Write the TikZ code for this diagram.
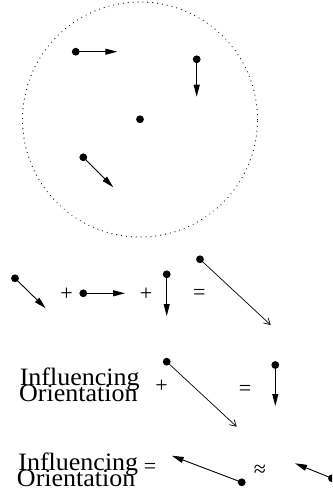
\documentclass[tikz,border=0pt]{standalone}
\usepackage{graphicx}
\usepackage{fontspec}
\setmainfont[Ligatures=CommonOff]{Liberation Serif}
\usetikzlibrary{arrows.meta}
\newcommand{\widerword}[1]{\scalebox{1.04}[1]{#1}}
\begin{document}
\begin{tikzpicture}[x=1pt,y=-1pt,
  dotnode/.style={circle,fill=black,inner sep=0pt,minimum size=7.8pt},
  farrow/.style={line width=0.9pt,-{Triangle[length=12pt,width=6pt]}},
  oarrow/.style={line width=0.7pt,-{Straight Barb[length=6pt,width=7pt,line width=0.7pt]}},
  circ/.style={line width=1.2pt,line cap=round,dash pattern=on 0.01pt off 4.9pt},
  op/.style={inner sep=0pt,font=\fontsize{22}{22}\selectfont},
  word/.style={inner sep=0pt,anchor=base,font=\fontsize{25}{25}\selectfont}]
\useasboundingbox (0,0) rectangle (332,492);
\clip (0,0) rectangle (332,492);
% top circle
\draw[circ] (140,119.5) circle[radius=117.5pt];
\node[dotnode] (c0) at (140,119.3) {};
\node[dotnode] (c1) at (75.7,51.7) {};
\coordinate (t1) at (117.3,51.7);
\node[dotnode] (c2) at (196.7,59.3) {};
\coordinate (t2) at (196.7,96.7);
\node[dotnode] (c3) at (83.3,157.3) {};
\coordinate (t3) at (113.3,187.3);
\draw[farrow] (c1.center) -- (t1);
\draw[farrow] (c2.center) -- (t2);
\draw[farrow] (c3.center) -- (t3);
% row 1
\node[dotnode] (a) at (15,278.3) {};
\coordinate (ta) at (45.7,308.3);
\draw[farrow] (a.center) -- (ta);
\node[op] (p1) at (66.7,294.3) {+};
\node[dotnode] (b) at (83.3,293.3) {};
\coordinate (tb) at (125,293.3);
\draw[farrow] (b.center) -- (tb);
\node[op] (p2) at (146,294.3) {+};
\node[dotnode] (c) at (166.7,274.3) {};
\coordinate (tc) at (166.7,316);
\draw[farrow] (c.center) -- (tc);
\node[op] (e1) at (199.3,294.3) {=};
\node[dotnode] (d) at (200,259.3) {};
\coordinate (td) at (270.7,325);
\draw[oarrow] (d.center) -- (td);
% row 2
\node[word] (i2) at (79.7,385.7) {\widerword{Influencing}};
\node[word] (o2) at (78.3,401.7) {\widerword{Orientation}};
\node[op] (p3) at (161.7,386.7) {+};
\node[dotnode] (e) at (166.7,361.7) {};
\coordinate (te) at (236.7,426.7);
\draw[oarrow] (e.center) -- (te);
\node[op] (e2) at (245,390) {=};
\node[dotnode] (f) at (275.3,365) {};
\coordinate (tf) at (275.3,406);
\draw[farrow] (f.center) -- (tf);
% row 3
\node[word] (i3) at (78.3,470.7) {\widerword{Influencing}};
\node[word] (o3) at (76.2,486.7) {\widerword{Orientation}};
\node[op] (e3) at (150,468.3) {=};
\node[dotnode] (g) at (241.7,482.3) {};
\coordinate (tg) at (171.7,455.7);
\draw[farrow] (g.center) -- (tg);
\node[op] (ap) at (260,470.7) {≈};
\node[dotnode] (h) at (332,478.3) {};
\coordinate (th) at (295,463.3);
\draw[farrow] (h.center) -- (th);
\end{tikzpicture}
\end{document}
